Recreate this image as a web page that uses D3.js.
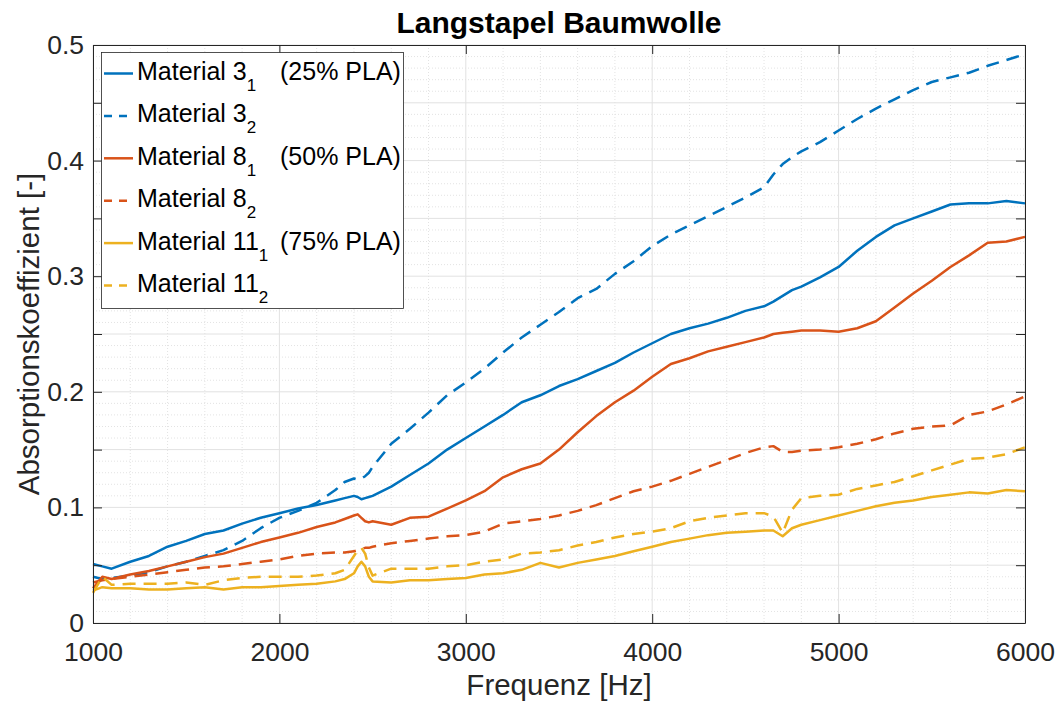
<!DOCTYPE html>
<html>
<head>
<meta charset="utf-8">
<script src="https://cdn.jsdelivr.net/npm/d3@7"></script>
<style>
  html, body { margin: 0; padding: 0; background: #fff; }
  svg { display: block; font-family: "Liberation Sans", Arial, Helvetica, sans-serif; }
</style>
</head>
<body>
<svg id="chart" width="1059" height="704"></svg>
<script>
// Frequency grid (Hz), shared by all measured curves
const freq = [1000,1050,1100,1200,1300,1400,1500,1600,1700,1800,1900,2000,2100,2200,2300,2350,2400,2420,2440,2460,2480,2500,
  2600,2700,2800,2900,3000,3100,3200,3300,3400,3500,3600,3700,3800,3900,4000,4100,4200,4300,4400,4500,4600,4650,4700,4750,
  4800,4900,5000,5100,5200,5300,5400,5500,5600,5700,5800,5900,6000];

// Absorption coefficients per sample
const mat3a = [.051,.049,.047,.053,.058,.066,.071,.077,.080,.086,.091,.095,.099,.102,.106,.108,.110,.109,.107,.108,.109,.110,
  .118,.128,.138,.150,.160,.170,.180,.191,.197,.205,.211,.218,.225,.234,.242,.250,.255,.259,.264,.270,.274,.278,.283,.288,
  .291,.299,.308,.322,.334,.344,.350,.356,.362,.363,.363,.365,.363];
const mat3b = [.040,.038,.039,.041,.044,.049,.053,.058,.063,.071,.082,.091,.097,.104,.115,.122,.125,.124,.125,.127,.130,.135,
  .155,.168,.182,.197,.208,.220,.234,.247,.258,.269,.281,.289,.302,.313,.326,.336,.344,.352,.360,.368,.377,.388,.397,.403,
  .408,.416,.426,.436,.445,.453,.461,.468,.472,.476,.482,.487,.492];
const mat8a = [.030,.040,.038,.042,.045,.049,.053,.057,.060,.065,.070,.074,.078,.083,.087,.090,.093,.094,.091,.088,.087,.088,
  .085,.091,.092,.099,.106,.114,.126,.133,.138,.150,.165,.179,.191,.201,.213,.224,.229,.235,.239,.243,.247,.250,.251,.252,
  .253,.253,.252,.255,.261,.273,.285,.296,.308,.318,.329,.330,.334];
const mat8b = [.035,.037,.038,.040,.042,.044,.046,.048,.049,.051,.053,.055,.058,.060,.061,.061,.062,.063,.064,.065,.065,.066,
  .069,.071,.073,.075,.076,.079,.086,.088,.090,.093,.097,.102,.108,.114,.118,.123,.129,.135,.141,.147,.152,.153,.148,.148,
  .149,.150,.152,.155,.159,.164,.168,.170,.171,.180,.183,.189,.196];
const mat11a = [.028,.031,.030,.030,.029,.029,.030,.031,.029,.031,.031,.032,.033,.034,.036,.038,.043,.049,.053,.049,.040,.036,
  .035,.037,.037,.038,.039,.042,.043,.046,.052,.048,.052,.055,.058,.062,.066,.070,.073,.076,.078,.079,.080,.080,.075,.082,
  .085,.089,.093,.097,.101,.104,.106,.109,.111,.113,.112,.115,.114];
const mat11b = [.026,.040,.033,.034,.034,.034,.035,.033,.037,.039,.040,.040,.040,.041,.043,.046,.058,.063,.065,.060,.048,.041,
  .047,.047,.047,.049,.050,.053,.055,.060,.061,.063,.067,.070,.074,.077,.079,.082,.088,.091,.093,.095,.095,.092,.078,.098,
  .108,.110,.111,.116,.119,.122,.127,.132,.137,.142,.143,.146,.152];

// Legend texts: base name, subscript, note
const names = ["Material 3", "Material 3", "Material 8", "Material 8", "Material 11", "Material 11"];
const subs  = ["1", "2", "1", "2", "1", "2"];
const notes = ["(25% PLA)", "", "(50% PLA)", "", "(75% PLA)", ""];
const xTicks = [1000, 2000, 3000, 4000, 5000, 6000];
const yTickLabels = ["0", "0.1", "0.2", "0.3", "0.4", "0.5"];

const seriesValues = [mat3a, mat3b, mat8a, mat8b, mat11a, mat11b];
const colors = ["#0072BD", "#0072BD", "#D95319", "#D95319", "#EDB120", "#EDB120"];
const dashed = [false, true, false, true, false, true];

const svg = d3.select("#chart");
const L = 93, R = 1025, T = 45, B = 623;

const x = d3.scaleLinear().domain([1000, 6000]).range([L, R]);
const y = d3.scaleLinear().domain([0, 0.5]).range([B, T]);

const axisCol = "#262626";

// Minor grid (dotted)
const g = svg.append("g");
d3.range(1000, 6001, 200).filter(v => v % 1000 !== 0).forEach(v => {
  g.append("line").attr("x1", x(v)).attr("x2", x(v)).attr("y1", T).attr("y2", B)
    .attr("stroke", "#e3e3e3").attr("stroke-width", 1).attr("stroke-dasharray", "1,2");
});
d3.range(0, 51, 1).filter(i => i % 5 !== 0).forEach(i => {
  const v = i / 100;
  g.append("line").attr("x1", L).attr("x2", R).attr("y1", y(v)).attr("y2", y(v))
    .attr("stroke", "#e3e3e3").attr("stroke-width", 1).attr("stroke-dasharray", "1,2");
});
// Major grid
xTicks.forEach(v => {
  g.append("line").attr("x1", x(v)).attr("x2", x(v)).attr("y1", T).attr("y2", B)
    .attr("stroke", "#e2e2e2").attr("stroke-width", 1);
});
d3.range(0, 11).map(i => i * 0.05).forEach(v => {
  g.append("line").attr("x1", L).attr("x2", R).attr("y1", y(v)).attr("y2", y(v))
    .attr("stroke", "#e2e2e2").attr("stroke-width", 1);
});

// Curves
const line = d3.line().x((d, i) => x(freq[i])).y(d => y(d));
seriesValues.forEach((vals, k) => {
  svg.append("path").datum(vals).attr("d", line)
    .attr("fill", "none").attr("stroke", colors[k]).attr("stroke-width", 2.5)
    .attr("stroke-linejoin", "round")
    .attr("stroke-dasharray", dashed[k] ? "13,8" : null);
});

// Axes with inward ticks
const yTickVals = d3.range(0, 11).map(i => i * 0.05);
const fmtY = v => {
  const idx = Math.round(v * 10);
  return Math.abs(v * 10 - idx) < 1e-6 ? yTickLabels[idx] : "";
};
function styleAxis(sel) {
  sel.select(".domain").attr("stroke", axisCol).attr("stroke-width", 1);
  sel.selectAll(".tick line").attr("stroke", axisCol);
  sel.selectAll(".tick text").attr("fill", axisCol).attr("font-size", 26.5)
    .attr("font-family", "'Liberation Sans', Arial, sans-serif");
}
svg.append("g").attr("transform", `translate(0,${B})`)
  .call(d3.axisBottom(x).tickValues(xTicks).tickSize(-9).tickPadding(19).tickSizeOuter(0).tickFormat(d3.format("d")))
  .call(styleAxis);
svg.append("g").attr("transform", `translate(${L},0)`)
  .call(d3.axisLeft(y).tickValues(yTickVals).tickSize(-9).tickPadding(9).tickSizeOuter(0).tickFormat(fmtY))
  .call(styleAxis);
svg.append("g").attr("transform", `translate(0,${T})`)
  .call(d3.axisTop(x).tickValues(xTicks).tickSize(-9).tickSizeOuter(0).tickFormat(""))
  .call(styleAxis);
svg.append("g").attr("transform", `translate(${R},0)`)
  .call(d3.axisRight(y).tickValues(yTickVals).tickSize(-9).tickSizeOuter(0).tickFormat(""))
  .call(styleAxis);

// Title and axis labels
svg.append("text").attr("x", (L + R) / 2).attr("y", 33).attr("text-anchor", "middle")
  .attr("font-size", 30).attr("font-weight", "bold").attr("fill", "#000").text("Langstapel Baumwolle");
svg.append("text").attr("x", (L + R) / 2).attr("y", 695).attr("text-anchor", "middle")
  .attr("font-size", 29.5).attr("fill", axisCol).text("Frequenz [Hz]");
svg.append("text").attr("transform", `translate(39,${(T + B) / 2}) rotate(-90)`).attr("text-anchor", "middle")
  .attr("font-size", 29.5).attr("fill", axisCol).text("Absorptionskoeffizient [-]");

// Legend
const lg = svg.append("g");
lg.append("rect").attr("x", 101.5).attr("y", 52.5).attr("width", 302).attr("height", 256)
  .attr("fill", "#fff").attr("stroke", axisCol).attr("stroke-width", 0.8);
names.forEach((nm, k) => {
  const base = 80 + k * 42.4;
  lg.append("line").attr("x1", 104).attr("x2", 133).attr("y1", base - 6.5).attr("y2", base - 6.5)
    .attr("stroke", colors[k]).attr("stroke-width", 2.5)
    .attr("stroke-dasharray", dashed[k] ? "8,7" : null);
  const t = lg.append("text").attr("x", 137).attr("y", base).attr("font-size", 25).attr("fill", "#000");
  t.append("tspan").text(nm);
  t.append("tspan").attr("dy", 11).attr("font-size", 17).text(subs[k]);
  if (notes[k]) {
    lg.append("text").attr("x", 280).attr("y", base).attr("font-size", 25).attr("fill", "#000").text(notes[k]);
  }
});
</script>
</body>
</html>
